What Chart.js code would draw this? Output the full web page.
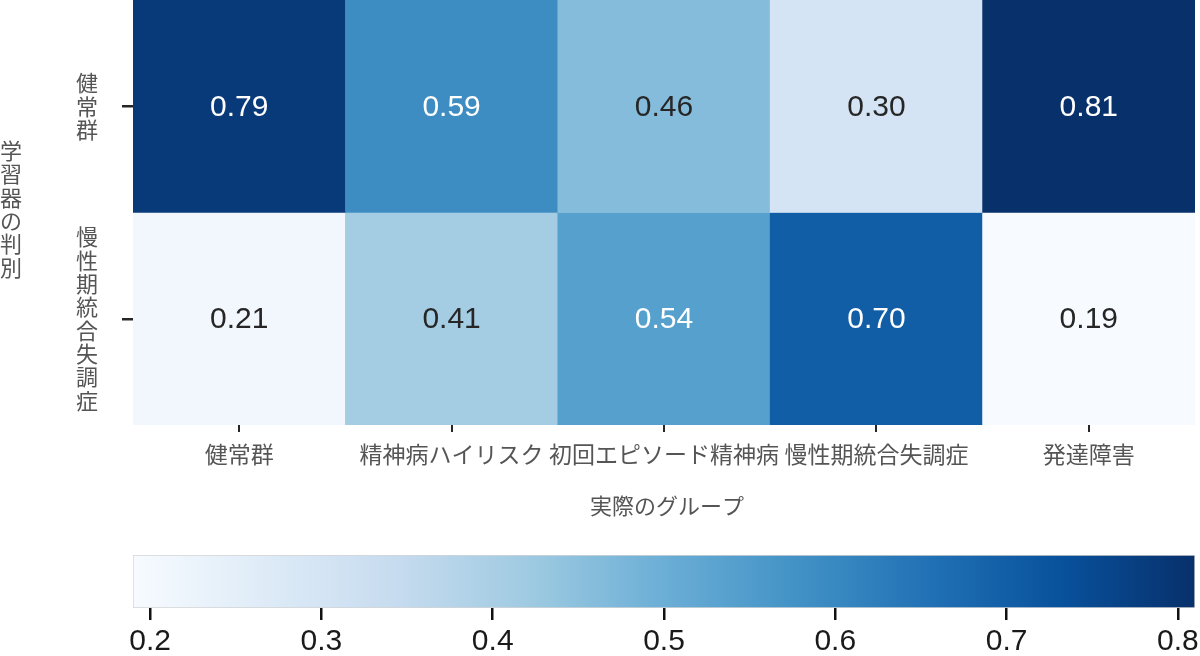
<!DOCTYPE html>
<html><head><meta charset="utf-8">
<script src="https://cdn.jsdelivr.net/npm/chart.js@4.4.1/dist/chart.umd.min.js"></script>
<style>
html,body{margin:0;padding:0;background:#fff;width:1200px;height:656px;overflow:hidden}
#w1{position:absolute;left:0;top:0;width:1200px;height:530px}
#w2{position:absolute;left:0;top:540px;width:1200px;height:116px}
</style></head><body>
<div id="w1"><canvas id="c1"></canvas></div>
<div id="w2"><canvas id="c2"></canvas></div>
<script>
// ---- data ----
const actualGroups = ['健常群','精神病ハイリスク','初回エピソード精神病','慢性期統合失調症','発達障害'];
const predictedGroups = ['健常群','慢性期統合失調症'];
const rowHealthy = [0.79, 0.59, 0.46, 0.30, 0.81];
const rowChronic = [0.21, 0.41, 0.54, 0.70, 0.19];
const colorbarTicks = [0.2, 0.3, 0.4, 0.5, 0.6, 0.7, 0.8];
const xTitle = '実際のグループ';
const yTitle = '学習器の判別';

// ---- styling ----
const blues = ['#f7fbff','#deebf7','#c6dbef','#9ecae1','#6baed6','#4292c6','#2171b5','#08519c','#08306b'];
const JP = '"Noto Sans CJK JP", "Noto Sans", sans-serif';
const NUM = '"Liberation Sans", Arial, sans-serif';
const rows = [rowHealthy, rowChronic];
const allVals = rows.flat();
const vmin = Math.min(...allVals), vmax = Math.max(...allVals);

function hexToRgb(h){return [parseInt(h.substr(1,2),16),parseInt(h.substr(3,2),16),parseInt(h.substr(5,2),16)];}
function cmapRgb(v){
  let t = (v - vmin) / (vmax - vmin); t = Math.max(0, Math.min(1, t));
  const p = t * (blues.length - 1); const i = Math.min(Math.floor(p), blues.length - 2); const f = p - i;
  const a = hexToRgb(blues[i]), b = hexToRgb(blues[i+1]);
  return a.map((c,k)=>Math.round(c + (b[k]-c)*f));
}
function cmap(v){const c=cmapRgb(v);return `rgb(${c[0]},${c[1]},${c[2]})`;}
function lum(rgb){
  const l = rgb.map(c=>{c/=255;return c<=0.03928?c/12.92:Math.pow((c+0.055)/1.055,2.4);});
  return 0.2126*l[0]+0.7152*l[1]+0.0722*l[2];
}

const labelPlugin = {
  id:'labels',
  afterDatasetsDraw(chart){
    const ctx = chart.ctx;
    ctx.save();
    ctx.textAlign='center'; ctx.textBaseline='middle';
    ctx.font = '30px ' + NUM;
    chart.data.datasets.forEach((ds, di)=>{
      const meta = chart.getDatasetMeta(di);
      meta.data.forEach((el, i)=>{
        const v = rows[di][i];
        ctx.fillStyle = lum(cmapRgb(v)) > 0.408 ? '#262626' : '#ffffff';
        ctx.fillText(v.toFixed(2), el.x, (el.y + el.base)/2 + 1);
      });
    });
    // axis titles
    const ca = chart.chartArea;
    ctx.fillStyle = '#555';
    ctx.font = '22px ' + JP;
    ctx.fillText(xTitle, (ca.left + ca.right)/2 + 3, 506);
    const chars = Array.from(yTitle);
    const lh = 23.4;
    const cy = 209;
    chars.forEach((c, k)=>{
      ctx.fillText(c, 11, cy + (k - (chars.length-1)/2) * lh);
    });
    ctx.restore();
  }
};

function zeroPad(s){ s.paddingTop = 0; s.paddingBottom = 0; s.paddingLeft = 0; s.paddingRight = 0; }

new Chart(document.getElementById('c1'), {
  type:'bar',
  data:{
    labels: actualGroups,
    datasets: rows.map((vals, r)=>({
      label: predictedGroups[r],
      data: vals.map(()=>[r, r+1]),
      backgroundColor: vals.map(cmap),
      borderWidth:0,
      borderSkipped:false,
      barPercentage:1,
      categoryPercentage:1,
      grouped:false
    }))
  },
  options:{
    responsive:true, maintainAspectRatio:false, animation:false,
    layout:{padding:{left:0,right:5,top:0,bottom:0}},
    plugins:{legend:{display:false}, tooltip:{enabled:false}},
    scales:{
      x:{
        type:'category',
        offset:true,
        grid:{display:true, drawOnChartArea:false, drawTicks:true, tickLength:7, offset:false, color:'#262626', lineWidth:2},
        border:{display:false},
        ticks:{font:{family:JP, size:23}, color:'#555', padding:8, maxRotation:0, autoSkip:false},
        afterFit(s){ s.height = 105; zeroPad(s); }
      },
      y:{
        type:'linear', min:0, max:2, reverse:true,
        afterBuildTicks(s){ s.ticks = predictedGroups.map((_, i)=>({value:i+0.5})); },
        grid:{display:true, drawOnChartArea:false, drawTicks:true, tickLength:11, color:'#262626', lineWidth:2.5},
        border:{display:false},
        ticks:{
          font:{family:JP, size:22, lineHeight:1.06}, color:'#555', padding:24, autoSkip:false,
          callback(value, index){ return Array.from(predictedGroups[index] || ''); }
        },
        afterFit(s){ s.width = 133; zeroPad(s); }
      }
    }
  },
  plugins:[labelPlugin]
});

// ---- colorbar ----
new Chart(document.getElementById('c2'), {
  type:'bar',
  data:{
    labels:['colorbar'],
    datasets:[{
      data:[[vmin, vmax]],
      backgroundColor(ctx){
        const ca = ctx.chart.chartArea;
        if(!ca) return blues[4];
        const g = ctx.chart.ctx.createLinearGradient(ca.left,0,ca.right,0);
        blues.forEach((c,k)=>g.addColorStop(k/(blues.length-1), c));
        return g;
      },
      borderColor:'#d4d4d4',
      borderWidth:1,
      borderSkipped:false,
      barPercentage:1, categoryPercentage:1
    }]
  },
  options:{
    indexAxis:'y',
    responsive:true, maintainAspectRatio:false, animation:false,
    layout:{padding:{left:133,right:5,top:15,bottom:0}},
    plugins:{legend:{display:false}, tooltip:{enabled:false}},
    scales:{
      x:{
        type:'linear', min:vmin, max:vmax,
        afterBuildTicks(s){ s.ticks = colorbarTicks.map(v=>({value:v})); },
        grid:{display:true, drawOnChartArea:false, drawTicks:true, tickLength:12, color:'#111111', lineWidth:2.5},
        border:{display:false},
        ticks:{font:{family:NUM, size:30}, color:'#1a1a1a', padding:4, autoSkip:false, maxRotation:0,
          callback(v){ return v.toFixed(1); }},
        afterFit(s){ s.height = 48; zeroPad(s); }
      },
      y:{display:false, afterFit(s){ zeroPad(s); }}
    }
  }
});
</script>
</body></html>
